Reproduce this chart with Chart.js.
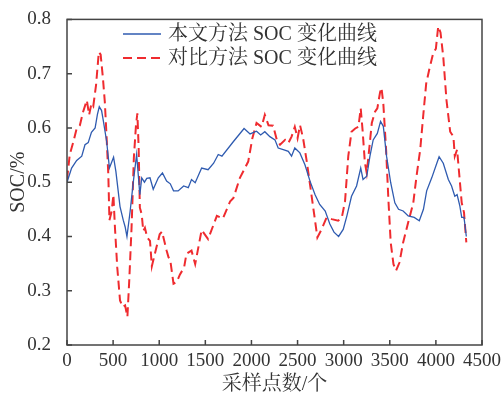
<!DOCTYPE html>
<html lang="zh">
<head>
  <meta charset="UTF-8">
  <title>SOC 变化曲线</title>
  <script src="https://cdn.jsdelivr.net/npm/chart.js"></script>
  <style>
    body {
      margin: 0;
      background-color: #ffffff;
    }
  </style>
</head>
<body>
  <canvas id="socChart" width="502" height="394"></canvas>

  <script>
    // sample index (x) and SOC values
    const oursX = [0, 50, 105, 160, 195, 230, 265, 305, 330, 350, 375, 395, 430, 460, 505, 530, 575, 610, 630, 650,
      685, 720, 755, 790, 810, 840, 865, 900, 935, 990, 1035, 1080, 1120, 1155, 1205, 1265, 1315, 1350, 1390, 1460,
      1530, 1590, 1640, 1680, 1805, 1920, 1985, 2055, 2100, 2145, 2200, 2255, 2290, 2345, 2400, 2435, 2470, 2525,
      2580, 2635, 2690, 2740, 2800, 2850, 2895, 2945, 2995, 3035, 3085, 3140, 3185, 3210, 3250, 3285, 3320, 3365,
      3400, 3430, 3465, 3510, 3555, 3595, 3645, 3700, 3765, 3820, 3865, 3900, 3955, 4010, 4035, 4080, 4135, 4170,
      4205, 4230, 4260, 4280, 4305, 4330];
    const oursSOC = [0.500, 0.526, 0.540, 0.548, 0.569, 0.573, 0.592, 0.600, 0.625, 0.639, 0.632, 0.612, 0.575, 0.526,
      0.546, 0.520, 0.455, 0.430, 0.418, 0.400, 0.447, 0.502, 0.551, 0.477, 0.508, 0.500, 0.507, 0.508, 0.487, 0.508,
      0.517, 0.502, 0.497, 0.484, 0.484, 0.493, 0.490, 0.505, 0.499, 0.526, 0.523, 0.535, 0.551, 0.548, 0.575, 0.599,
      0.589, 0.594, 0.587, 0.593, 0.584, 0.578, 0.563, 0.560, 0.557, 0.548, 0.563, 0.554, 0.532, 0.502, 0.477, 0.459,
      0.447, 0.423, 0.408, 0.400, 0.413, 0.438, 0.474, 0.493, 0.526, 0.505, 0.511, 0.548, 0.578, 0.590, 0.612, 0.603,
      0.548, 0.499, 0.462, 0.450, 0.447, 0.438, 0.435, 0.429, 0.450, 0.484, 0.508, 0.535, 0.547, 0.535, 0.505, 0.493,
      0.474, 0.477, 0.456, 0.435, 0.435, 0.400];

    const compX = [0, 30, 70, 105, 140, 175, 215, 240, 265, 285, 315, 345, 365, 390, 410, 430, 448, 460, 485, 503,
      520, 545, 575, 605, 630, 655, 675, 700, 725, 748, 763, 777, 790, 810, 827, 845, 870, 900, 920, 970, 1005, 1030,
      1080, 1100, 1120, 1155, 1190, 1225, 1270, 1295, 1350, 1390, 1460, 1530, 1625, 1690, 1770, 1805, 1875, 1965,
      2010, 2055, 2110, 2145, 2185, 2235, 2275, 2310, 2365, 2400, 2435, 2470, 2500, 2527, 2560, 2600, 2635, 2680,
      2715, 2760, 2815, 2870, 2940, 2980, 3015, 3050, 3085, 3125, 3160, 3185, 3205, 3230, 3250, 3280, 3305, 3340,
      3365, 3395, 3410, 3430, 3460, 3485, 3510, 3540, 3568, 3605, 3645, 3700, 3755, 3790, 3830, 3865, 3895, 3930,
      3970, 4000, 4025, 4050, 4080, 4115, 4155, 4190, 4205, 4230, 4255, 4280, 4305, 4330];
    const compSOC = [0.505, 0.551, 0.575, 0.599, 0.605, 0.630, 0.651, 0.624, 0.645, 0.640, 0.679, 0.740, 0.735, 0.691,
      0.648, 0.581, 0.514, 0.430, 0.447, 0.477, 0.416, 0.343, 0.282, 0.270, 0.273, 0.252, 0.319, 0.416, 0.545, 0.605,
      0.627, 0.563, 0.453, 0.441, 0.410, 0.416, 0.398, 0.392, 0.345, 0.380, 0.404, 0.409, 0.374, 0.362, 0.356, 0.313,
      0.316, 0.330, 0.343, 0.368, 0.374, 0.349, 0.412, 0.395, 0.438, 0.433, 0.465, 0.471, 0.508, 0.538, 0.581, 0.609,
      0.602, 0.624, 0.605, 0.604, 0.578, 0.569, 0.578, 0.572, 0.584, 0.602, 0.581, 0.605, 0.581, 0.538, 0.496, 0.441,
      0.398, 0.413, 0.435, 0.432, 0.429, 0.435, 0.465, 0.548, 0.593, 0.599, 0.602, 0.636, 0.596, 0.536, 0.517, 0.566,
      0.609, 0.630, 0.636, 0.666, 0.674, 0.645, 0.560, 0.468, 0.389, 0.349, 0.337, 0.352, 0.389, 0.426, 0.462, 0.511,
      0.560, 0.627, 0.682, 0.709, 0.737, 0.746, 0.787, 0.776, 0.731, 0.651, 0.593, 0.584, 0.548, 0.560, 0.511, 0.462,
      0.444, 0.389];

    const seriesLabels = ['本文方法 SOC 变化曲线', '对比方法 SOC 变化曲线'];
    const xTicks = [0, 500, 1000, 1500, 2000, 2500, 3000, 3500, 4000, 4500];
    const yTicks = [0.2, 0.3, 0.4, 0.5, 0.6, 0.7, 0.8];

    const FONT = '"Liberation Serif", "Noto Serif CJK SC", "Noto Sans CJK SC", serif';
    const AXIS = '#444444';

    const toPoints = (xs, ys) => xs.map((x, i) => ({ x: x, y: ys[i] }));

    // box around the plot + inward tick marks
    const frame = {
      id: 'frame',
      afterDraw(chart) {
        const { ctx, chartArea: a, scales } = chart;
        ctx.save();
        ctx.strokeStyle = AXIS;
        ctx.lineWidth = 1.5;
        ctx.strokeRect(a.left, a.top, a.right - a.left, a.bottom - a.top);
        ctx.beginPath();
        xTicks.forEach(v => {
          const px = scales.x.getPixelForValue(v);
          ctx.moveTo(px, a.bottom);
          ctx.lineTo(px, a.bottom - 5);
        });
        yTicks.forEach(v => {
          const py = scales.y.getPixelForValue(v);
          ctx.moveTo(a.left, py);
          ctx.lineTo(a.left + 5, py);
        });
        ctx.stroke();
        ctx.restore();
      }
    };

    // legend drawn in the upper part of the plot
    const legendBox = {
      id: 'legendBox',
      afterDatasetsDraw(chart) {
        const ctx = chart.ctx;
        ctx.save();
        ctx.font = '20px ' + FONT;
        ctx.textBaseline = 'middle';
        chart.data.datasets.forEach((ds, i) => {
          const y = 34 + i * 24;
          ctx.strokeStyle = ds.borderColor;
          ctx.lineWidth = ds.borderWidth;
          ctx.setLineDash(ds.borderDash || []);
          ctx.beginPath();
          ctx.moveTo(123, y);
          ctx.lineTo(161, y);
          ctx.stroke();
          ctx.setLineDash([]);
          ctx.fillStyle = '#333333';
          ctx.fillText(ds.label, 168, y + 1);
        });
        ctx.restore();
      }
    };

    const ctx = document.getElementById('socChart').getContext('2d');

    new Chart(ctx, {
      type: 'line',
      data: {
        datasets: [{
          label: seriesLabels[0],
          data: toPoints(oursX, oursSOC),
          borderColor: '#2f5bb0',
          borderWidth: 1.3,
          pointRadius: 0,
          tension: 0
        }, {
          label: seriesLabels[1],
          data: toPoints(compX, compSOC),
          borderColor: '#ef2b2f',
          borderWidth: 2,
          borderDash: [9, 5],
          pointRadius: 0,
          tension: 0
        }]
      },
      options: {
        responsive: false,
        animation: false,
        layout: {
          padding: { top: 17, right: 20, left: 0, bottom: 0 }
        },
        plugins: {
          legend: { display: false },
          tooltip: { enabled: false }
        },
        scales: {
          x: {
            type: 'linear',
            min: 0,
            max: 4500,
            afterFit(scale) { scale.height = 49; },
            afterBuildTicks(scale) { scale.ticks = xTicks.map(v => ({ value: v })); },
            grid: { display: false },
            border: { display: false },
            ticks: {
              color: '#333333',
              padding: -3,
              maxRotation: 0,
              font: { family: FONT, size: 19 },
              callback: v => String(v)
            },
            title: {
              display: true,
              text: '采样点数/个',
              color: '#333333',
              padding: { top: 0, bottom: -3 },
              font: { family: FONT, size: 20 }
            }
          },
          y: {
            min: 0.2,
            max: 0.8,
            afterFit(scale) { scale.width = 67; },
            afterBuildTicks(scale) { scale.ticks = yTicks.map(v => ({ value: v })); },
            grid: { display: false },
            border: { display: false },
            ticks: {
              color: '#333333',
              padding: 8,
              font: { family: FONT, size: 19 },
              callback: v => v.toFixed(1)
            },
            title: {
              display: true,
              text: 'SOC/%',
              color: '#333333',
              padding: { top: 7, bottom: 0 },
              font: { family: FONT, size: 20 }
            }
          }
        }
      },
      plugins: [frame, legendBox]
    });
  </script>
</body>
</html>
